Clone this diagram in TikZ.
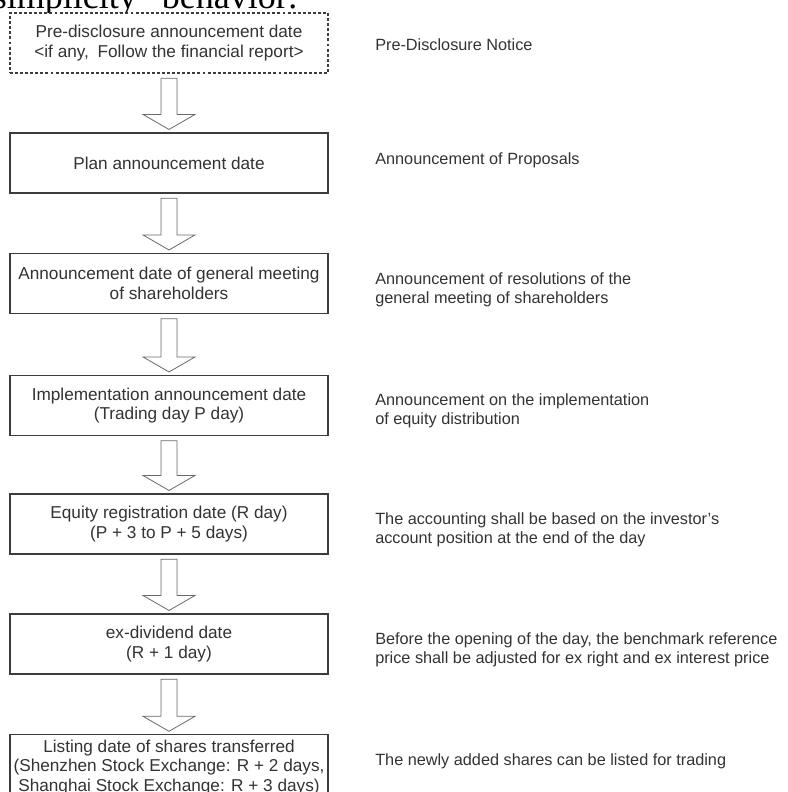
\documentclass[tikz,border=0pt]{standalone}
\usepackage{fontspec}
\setmainfont{Liberation Sans}
\newfontfamily\bodyserif{Liberation Serif}
\usetikzlibrary{positioning,calc}
\definecolor{ink}{HTML}{333333}
\definecolor{frame}{HTML}{3C3C3C}
\definecolor{hollowline}{HTML}{6A6A6A}
\tikzset{
  %% nodes
  stage/.style     = {draw=frame, line width=0.8pt, fill=white,
                      minimum width=238.5pt, minimum height=45pt,
                      align=center, inner sep=2pt, text=ink,
                      font=\fontsize{12.9}{14.5}\selectfont},
  stagedash/.style = {stage, dash pattern=on 2.2pt off 1.6pt},
  note/.style      = {anchor=west, align=left, inner sep=0pt, text=ink,
                      font=\fontsize{12.2}{14.3}\selectfont},
  frag/.style      = {inner sep=0pt, text=black,
                      font=\bodyserif\fontsize{27}{29}\selectfont},
  %% connectors
  hollow/.style    = {draw=hollowline, line width=0.6pt, fill=white,
                      line join=miter},
}
%% hollow block arrow from the bottom of #1 to the top of #2
\newcommand{\hollowarrow}[2]{%
  \draw[hollow] let \p1=(#1.south), \p2=(#2.north) in
    (\x1-6pt,\y1-3.5pt) -- (\x1-6pt,\y2+13.5pt) -- (\x1-19.5pt,\y2+13.5pt)
    -- (\x1,\y2+2.25pt) -- (\x1+19.5pt,\y2+13.5pt) -- (\x1+6pt,\y2+13.5pt)
    -- (\x1+6pt,\y1-3.5pt) -- cycle;}

\begin{document}
\begin{tikzpicture}[x=0.75pt, y=-0.75pt]
\useasboundingbox (0,0) rectangle (788,792);

%% ---- cut-off line of the page above ----
\node[frag, anchor=base east] (frag) at (298,9) {simplicity” behavior:};

%% ---- stages (left) ----
\node[stagedash] (pre)  at (169,43)
   {Pre-disclosure announcement date\\<if any,\enspace Follow the financial report>};
\node[stage] (plan) at (169,163) {Plan announcement date};
\node[stage] (agm)  at (169,283.5)
   {Announcement date of general meeting\\of shareholders};
\node[stage] (impl) at (169,405.5)
   {Implementation announcement date\\(Trading day P day)};
\node[stage] (reg)  at (169,524)
   {Equity registration date (R day)\\(P + 3 to P + 5 days)};
\node[stage] (exdiv) at (169,644)
   {ex-dividend date\\(R + 1 day)};
\node[stage, minimum height=49pt] (list) at (169,767.5)
   {Listing date of shares transferred\\(Shenzhen Stock Exchange: R + 2 days,\\Shanghai Stock Exchange: R + 3 days)};

\foreach \a/\b in {pre/plan, plan/agm, agm/impl, impl/reg, reg/exdiv, exdiv/list}
  \hollowarrow{\a}{\b};

%% ---- notes (right) ----
\node[note] (npre)  at (375,45)    {Pre-Disclosure Notice};
\node[note] (nplan) at (375,160)   {Announcement of Proposals};
\node[note] (nagm)  at (375,289.5)
   {Announcement of resolutions of the\\general meeting of shareholders};
\node[note] (nimpl) at (375,410.5)
   {Announcement on the implementation\\of equity distribution};
\node[note] (nreg)  at (375,529.5)
   {The accounting shall be based on the investor’s\\account position at the end of the day};
\node[note] (nexdiv) at (375,649.5)
   {Before the opening of the day, the benchmark reference\\price shall be adjusted for ex right and ex interest price};
\node[note] (nlist) at (375,761)   {The newly added shares can be listed for trading};
\end{tikzpicture}
\end{document}
